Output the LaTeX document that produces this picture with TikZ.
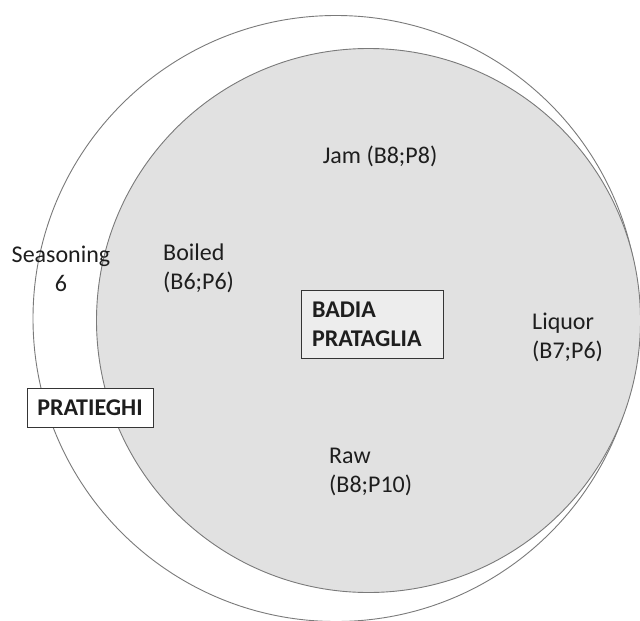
\documentclass[tikz,border=0pt]{standalone}
\usepackage{fontspec}
\setmainfont{Carlito}
\definecolor{ringline}{HTML}{7A7A7A}
\definecolor{innerfill}{HTML}{E1E1E1}
\definecolor{txt}{HTML}{1E1E1E}
\begin{document}
\begin{tikzpicture}[x=1pt,y=-1pt,
  ring/.style={draw=ringline,line width=0.9pt},
  lbl/.style={font=\fontsize{24}{29}\selectfont,text=txt,inner sep=0pt},
  boxlbl/.style={font=\fontsize{24}{29}\selectfont\bfseries,text=txt,draw=txt!90,line width=0.9pt}]
\useasboundingbox (0,0) rectangle (640,621);
\fill[white] (0,0) rectangle (640,621);
\draw[ring,fill=white] (336,318.5) circle[radius=303];
\draw[ring,fill=innerfill] (368.5,320.5) circle[radius=272];
\node[lbl] (jam) at (380,156) {Jam (B8;P8)};
\node[lbl,align=center] (seas) at (61,268.5) {Seasoning\\6};
\node[lbl,align=left,anchor=west] (boiled) at (163,268.5) {Boiled\\(B6;P6)};
\node[lbl,align=left,anchor=west] (liquor) at (532,337) {Liquor\\(B7;P6)};
\node[lbl,align=left,anchor=west] (raw) at (329,472) {Raw\\(B8;P10)};
\node[boxlbl,fill=innerfill!60!white,align=left,text width=120pt,inner xsep=11pt,minimum height=68pt] (badia) at (372,324) {BADIA\\PRATAGLIA};
\node[boxlbl,fill=white,minimum width=126pt,minimum height=39pt,inner sep=0pt] (prat) at (90,407.5) {PRATIEGHI};
\end{tikzpicture}
\end{document}
